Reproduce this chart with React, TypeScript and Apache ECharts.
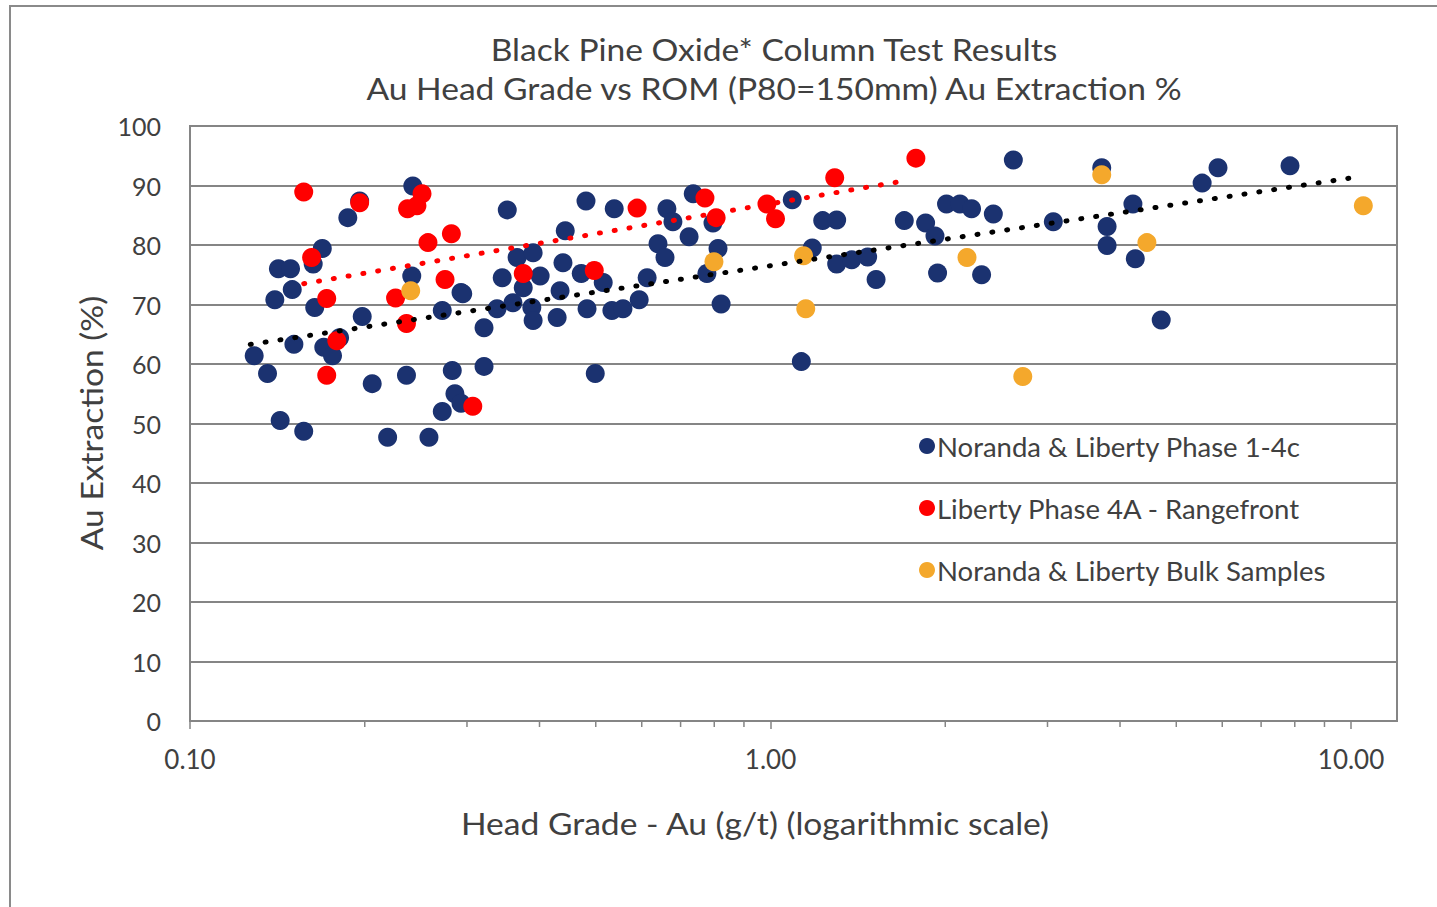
import React, { useEffect, useRef } from 'react';
import * as echarts from 'echarts';

const titleLines = [
  'Black Pine Oxide* Column Test Results',
  'Au Head Grade vs ROM (P80=150mm) Au Extraction %',
];
const xAxisTitle = 'Head Grade - Au (g/t) (logarithmic scale)';
const yAxisTitle = 'Au Extraction (%)';
const seriesNames = [
  'Noranda & Liberty Phase 1-4c',
  'Liberty Phase 4A - Rangefront',
  'Noranda & Liberty Bulk Samples',
];

// [head grade g/t, extraction %]
const phase14c: [number, number][] = [
  [0.242, 89.9], [0.196, 87.4], [0.187, 84.6], [0.169, 79.4], [0.142, 76.0], [0.149, 76.0],
  [0.163, 76.8], [0.150, 72.5], [0.140, 70.8], [0.164, 69.5], [0.241, 74.8], [0.293, 72.0],
  [0.198, 68.0], [0.272, 69.0], [0.321, 66.1], [0.151, 63.3], [0.170, 62.8], [0.176, 61.4],
  [0.129, 61.4], [0.136, 58.4], [0.181, 64.4], [0.206, 56.7], [0.236, 58.1], [0.283, 58.9],
  [0.321, 59.6], [0.286, 55.0], [0.293, 53.4], [0.272, 52.0], [0.143, 50.5], [0.157, 48.7],
  [0.219, 47.7], [0.258, 47.7],
  [0.352, 85.9], [0.481, 87.4], [0.538, 86.1], [0.663, 86.1], [0.679, 83.9], [0.736, 88.6],
  [0.796, 83.7], [0.443, 82.4], [0.724, 81.4], [0.640, 80.2], [0.658, 77.9], [0.366, 77.9],
  [0.390, 78.7], [0.439, 77.0], [0.345, 74.5], [0.401, 74.8], [0.472, 75.2], [0.515, 73.7],
  [0.613, 74.5], [0.812, 79.4], [0.777, 75.2], [0.295, 71.8], [0.375, 72.8], [0.434, 72.3],
  [0.338, 69.3], [0.360, 70.3], [0.388, 69.5], [0.390, 67.3], [0.429, 67.8], [0.483, 69.3],
  [0.533, 69.0], [0.557, 69.3], [0.594, 70.8], [0.822, 70.1], [0.499, 58.4],
  [2.62, 94.3], [1.09, 87.6], [2.01, 86.9], [2.12, 86.9], [2.22, 86.1], [2.42, 85.2],
  [3.07, 83.9], [1.23, 84.1], [1.30, 84.2], [1.70, 84.1], [1.85, 83.7], [1.92, 81.5],
  [1.18, 79.5], [1.30, 76.8], [1.38, 77.5], [1.47, 78.0], [1.52, 74.2], [1.94, 75.3],
  [2.31, 75.0], [1.13, 60.4],
  [3.72, 93.0], [5.90, 93.0], [5.54, 90.4], [7.85, 93.3], [4.21, 86.9], [3.80, 83.1],
  [3.80, 79.9], [4.25, 77.7], [4.71, 67.4],
];

const rangefront: [number, number][] = [
  [0.157, 88.9], [0.196, 87.1], [0.251, 88.6], [0.237, 86.1], [0.246, 86.6], [0.257, 80.4],
  [0.282, 81.9], [0.162, 77.9], [0.275, 74.2], [0.172, 71.0], [0.226, 71.1], [0.236, 66.8],
  [0.179, 63.9], [0.172, 58.1], [0.307, 52.9], [0.375, 75.2], [0.497, 75.7], [0.589, 86.2],
  [0.771, 87.9], [0.806, 84.6], [0.986, 86.9], [1.02, 84.4], [1.29, 91.3], [1.78, 94.6],
];

const bulkSamples: [number, number][] = [
  [0.240, 72.3], [0.799, 77.2], [1.14, 78.2], [2.18, 77.9], [1.15, 69.3], [2.72, 57.9],
  [3.72, 91.8], [4.45, 80.4], [10.5, 86.6],
];

// Logarithmic trend lines (end points)
const trendAll: [number, number][] = [[0.127, 63.3], [10.2, 91.4]];
const trendRangefront: [number, number][] = [[0.157, 73.5], [1.73, 90.9]];

const xTickLabelValues = [0.1, 1, 10];
const minorTickValues = [0.2, 0.3, 0.4, 0.5, 0.6, 0.7, 0.8, 0.9, 2, 3, 4, 5, 6, 7, 8, 9];

const colors = { navy: '#1b3270', red: '#ff0000', orange: '#f4a82c' };
const textColor = '#404040';
const lineGrey = '#858585';
const FONT = 'Lato, "Open Sans", sans-serif';
const WIDE = 1.12;

export default function App() {
  const ref = useRef<HTMLDivElement>(null);

  useEffect(() => {
    if (!ref.current) return;
    const chart = echarts.init(ref.current, undefined, { renderer: 'svg' });
    const textStyle = (text: string) => ({
      text, fontSize: 30, fontFamily: FONT, fill: textColor, align: 'center', verticalAlign: 'middle',
    });
    const option: any = {
      animation: false,
      backgroundColor: '#ffffff',
      textStyle: { fontFamily: FONT },
      grid: {
        left: 190, right: 40, top: 126, bottom: 186,
        show: true, borderColor: lineGrey, borderWidth: 2,
      },
      graphic: [
        {
          type: 'rect', silent: true,
          shape: { x: 10, y: 6, width: 1500, height: 1000 },
          style: { fill: 'none', stroke: '#8a8a8a', lineWidth: 2 },
        },
        { type: 'text', x: 774, y: 50, scaleX: WIDE, style: textStyle(titleLines[0]) },
        { type: 'text', x: 774, y: 89, scaleX: WIDE, style: textStyle(titleLines[1]) },
        { type: 'text', x: 755, y: 824, scaleX: WIDE, style: textStyle(xAxisTitle) },
        { type: 'text', x: 92, y: 423, rotation: Math.PI / 2, scaleX: WIDE, style: textStyle(yAxisTitle) },
      ],
      legend: {
        data: seriesNames,
        orient: 'vertical',
        left: 914,
        top: 426,
        itemWidth: 16,
        itemHeight: 16,
        itemGap: 32,
        icon: 'circle',
        textStyle: { fontSize: 27.5, fontFamily: FONT, color: textColor, lineHeight: 30, padding: [0, 0, 0, -3] },
      },
      xAxis: {
        type: 'log',
        logBase: 10,
        min: 0.1,
        max: 12,
        axisLine: { show: true, lineStyle: { color: lineGrey, width: 2 } },
        axisTick: { show: true, length: 8, lineStyle: { color: lineGrey, width: 1.5 } },
        axisLabel: {
          fontSize: 26, fontFamily: FONT, color: textColor, margin: 25,
          showMaxLabel: false,
          formatter: (v: number) => (xTickLabelValues.some((t) => Math.abs(t - v) < 1e-9) ? v.toFixed(2) : ''),
        },
        splitLine: { show: false },
      },
      yAxis: {
        type: 'value',
        min: 0,
        max: 100,
        interval: 10,
        axisLine: { show: true, lineStyle: { color: lineGrey, width: 2 } },
        axisTick: { show: false },
        axisLabel: { fontSize: 25, fontFamily: FONT, color: textColor, margin: 29 },
        splitLine: { show: true, lineStyle: { color: lineGrey, width: 2 } },
      },
      series: [
        {
          type: 'custom',
          name: 'minorTicks',
          silent: true,
          data: minorTickValues.map((v) => [v, 0]),
          renderItem: (_params: any, api: any) => {
            const p = api.coord([api.value(0), 0]);
            return {
              type: 'line',
              shape: { x1: p[0], y1: p[1], x2: p[0], y2: p[1] + 6 },
              style: { stroke: lineGrey, lineWidth: 1.5 },
            };
          },
          z: 1,
        },
        {
          name: seriesNames[0],
          type: 'scatter',
          data: phase14c,
          symbol: 'circle',
          symbolSize: 19,
          itemStyle: { color: colors.navy, opacity: 1 },
          z: 2,
        },
        {
          name: seriesNames[1],
          type: 'scatter',
          data: rangefront,
          symbol: 'circle',
          symbolSize: 19,
          itemStyle: { color: colors.red, opacity: 1 },
          z: 2,
        },
        {
          name: seriesNames[2],
          type: 'scatter',
          data: bulkSamples,
          symbol: 'circle',
          symbolSize: 19,
          itemStyle: { color: colors.orange, opacity: 1 },
          z: 2,
        },
        {
          name: 'trendAll',
          type: 'line',
          data: trendAll,
          showSymbol: false,
          symbol: 'none',
          silent: true,
          lineStyle: { color: '#000000', width: 5, type: [1, 14], cap: 'round' },
          z: 3,
        },
        {
          name: 'trendRangefront',
          type: 'line',
          data: trendRangefront,
          showSymbol: false,
          symbol: 'none',
          silent: true,
          lineStyle: { color: colors.red, width: 5, type: [1, 14], cap: 'round' },
          z: 3,
        },
      ],
    };
    chart.setOption(option);
    return () => chart.dispose();
  }, []);

  return (
    <div
      ref={ref}
      style={{ position: 'fixed', left: 0, top: 0, width: 1437, height: 907, background: '#fff' }}
    />
  );
}
